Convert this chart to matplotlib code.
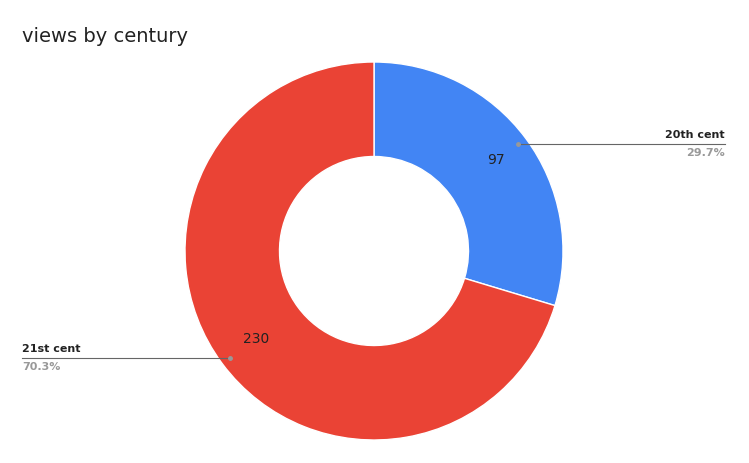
import matplotlib
matplotlib.use("Agg")
import matplotlib.pyplot as plt

categories = ["20th cent", "21st cent"]
values = [97, 230]
colors = ["#4285f4", "#ea4335"]

W, H = 749, 463
fig = plt.figure(figsize=(W/100, H/100), dpi=100)
ax = fig.add_axes([0, 0, 1, 1])
ax.set_xlim(0, W); ax.set_ylim(0, H); ax.set_aspect('equal'); ax.axis('off')

cx, cy, R = 374, H - 251, 189
ax.pie(values, colors=colors, startangle=90, counterclock=False, center=(cx, cy),
       radius=R, wedgeprops=dict(width=R*0.5, edgecolor='white', linewidth=1), frame=True)
ax.set_xlim(0, W); ax.set_ylim(0, H); ax.axis('off')

total = sum(values)
fig.text(22/W, 1 - 36/H, "views by century", fontsize=14, color='#222222', va='center')

# value labels
ax.text(496, H - 160, str(values[0]), fontsize=10, ha='center', va='center', color='#222222')
ax.text(256, H - 339, str(values[1]), fontsize=10, ha='center', va='center', color='#222222')

# leader lines and category labels
ax.plot([518, 725], [H - 144, H - 144], color='#666666', lw=0.8)
ax.plot([518], [H - 144], 'o', color='#999999', ms=2.5)
ax.text(725, H - 135, categories[0], fontsize=8, fontweight='bold', ha='right', va='center', color='#222222')
ax.text(725, H - 153, f"{values[0]/total*100:.1f}%", fontsize=8, fontweight='bold', ha='right', va='center', color='#999999')

ax.plot([22, 230], [H - 358, H - 358], color='#666666', lw=0.8)
ax.plot([230], [H - 358], 'o', color='#999999', ms=2.5)
ax.text(22, H - 349, categories[1], fontsize=8, fontweight='bold', ha='left', va='center', color='#222222')
ax.text(22, H - 367, f"{values[1]/total*100:.1f}%", fontsize=8, fontweight='bold', ha='left', va='center', color='#999999')

fig.savefig("out.png", dpi=100)
